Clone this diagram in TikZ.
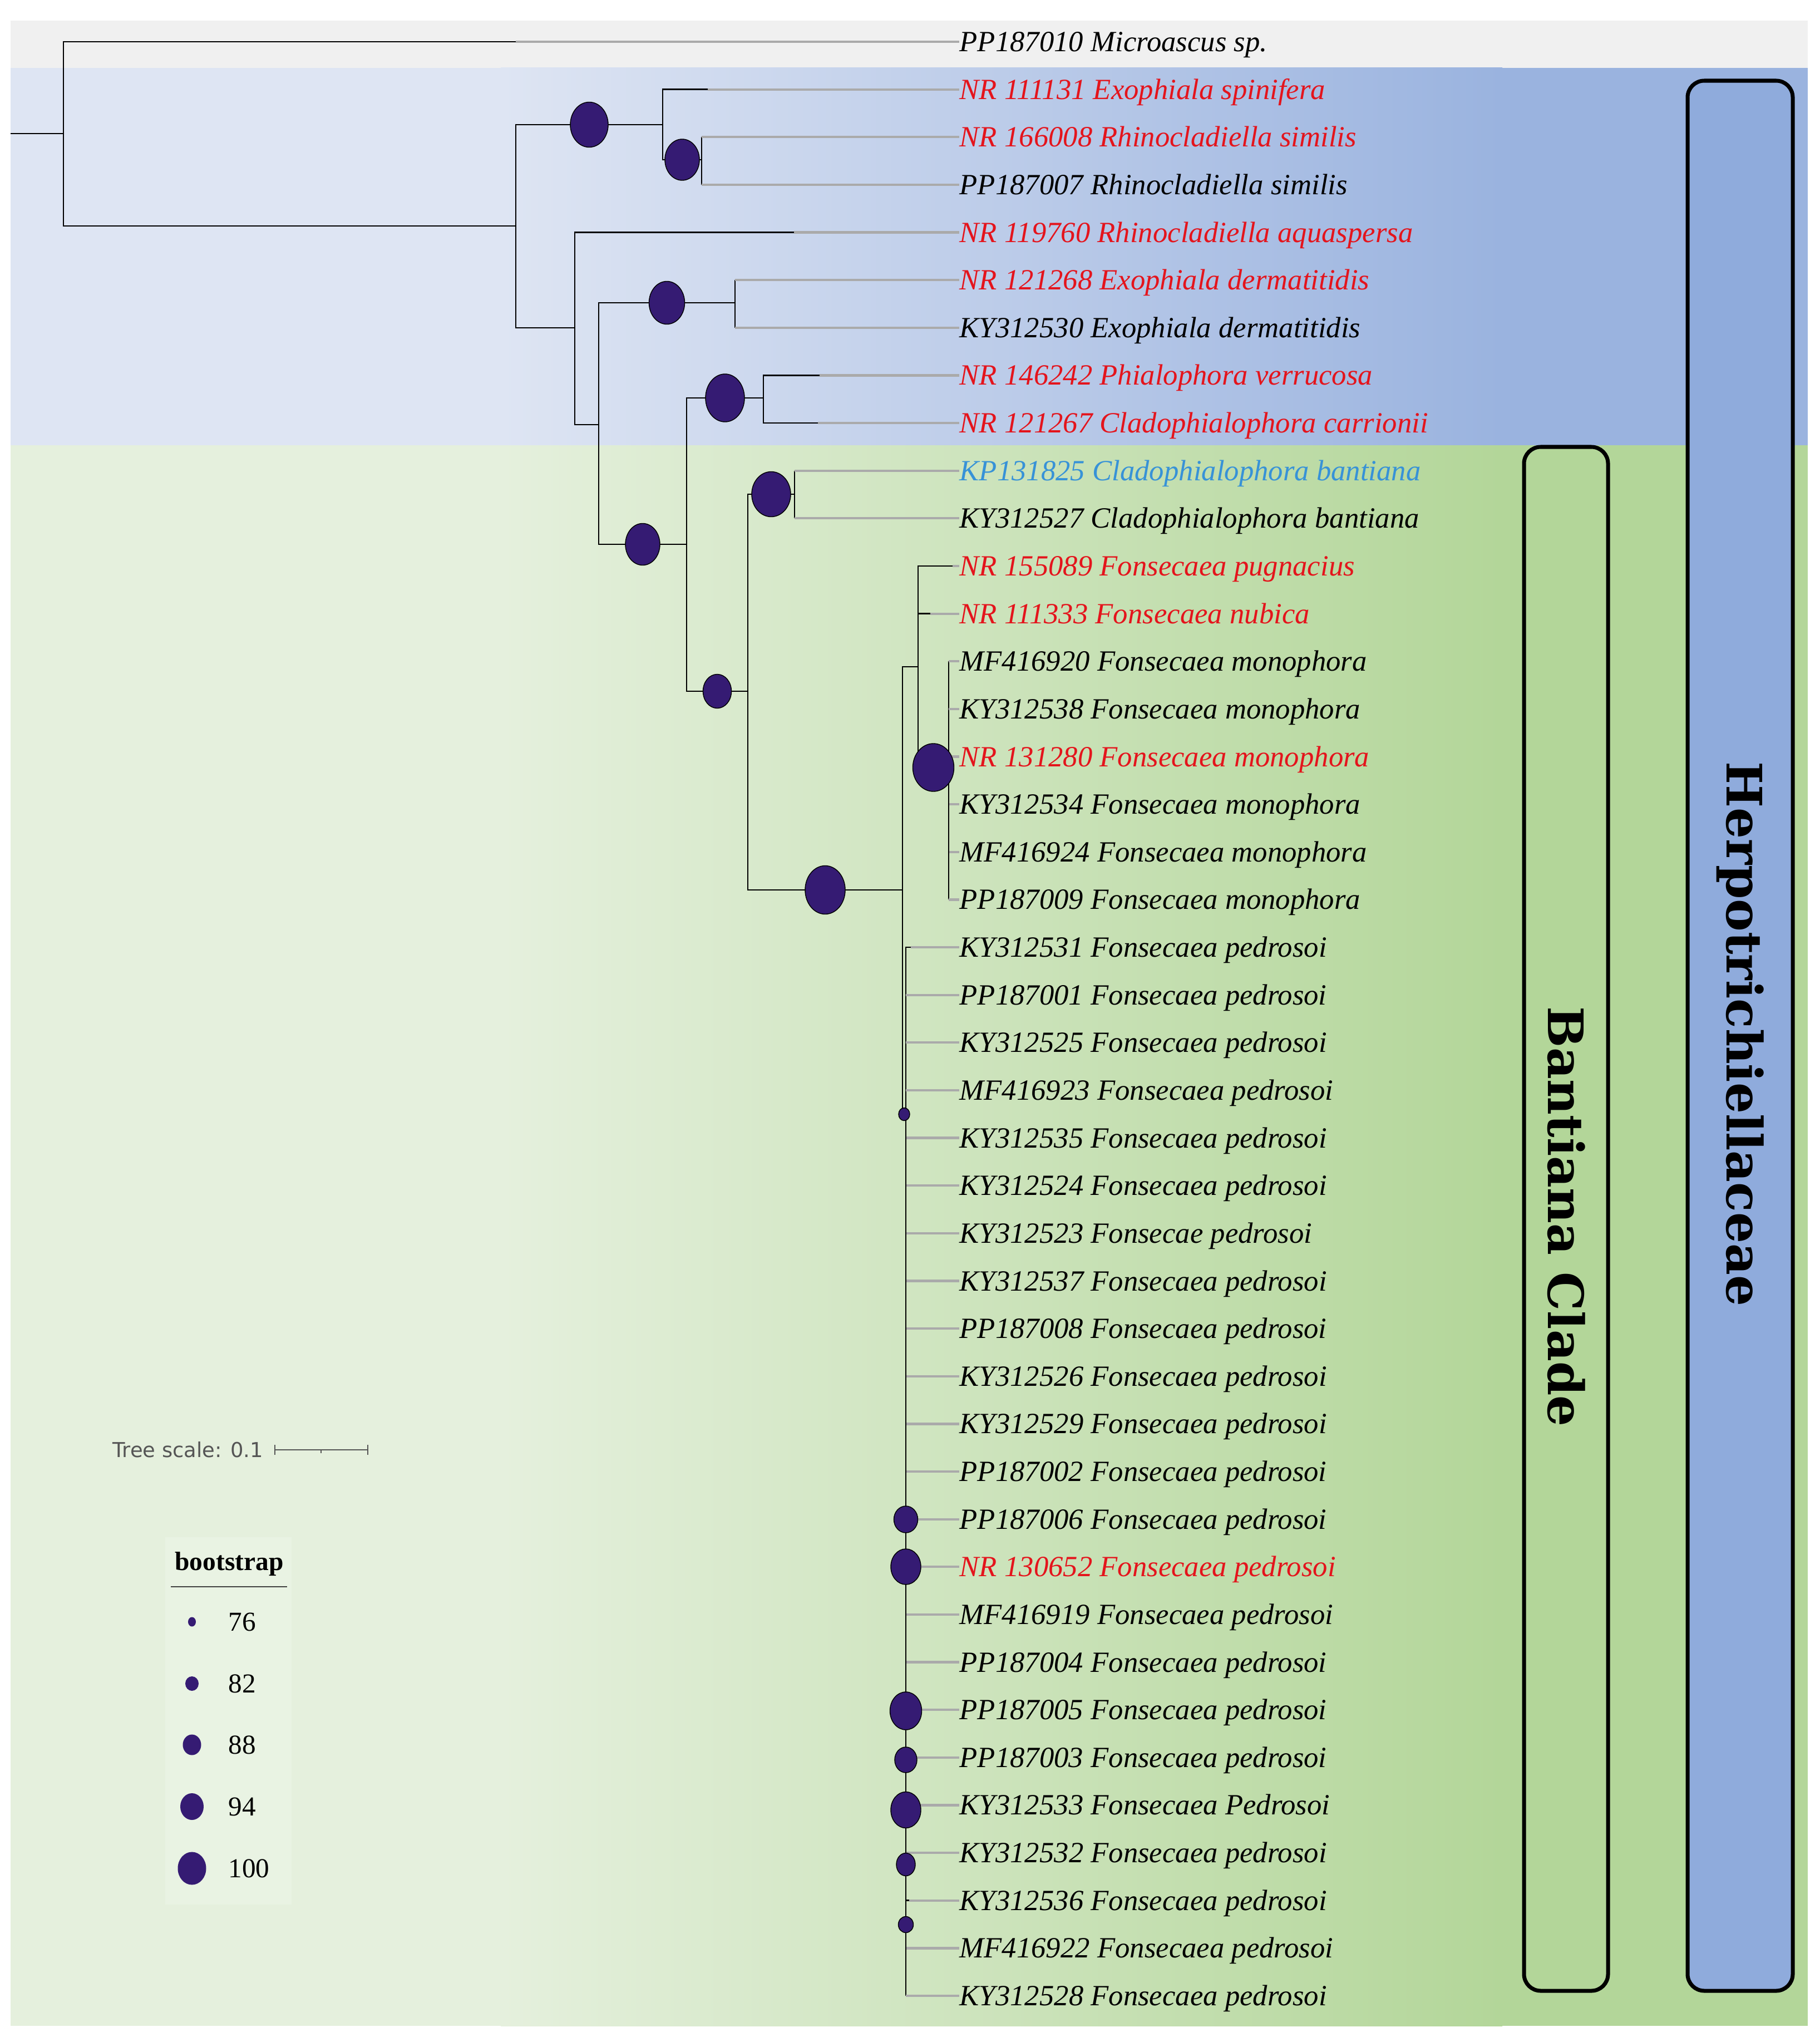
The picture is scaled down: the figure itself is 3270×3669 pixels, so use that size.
\documentclass[tikz,border=0pt]{standalone}
\usepackage{fontspec}
\setmainfont{Liberation Serif}
\newfontfamily\cladefont{DejaVu Serif}
\newfontfamily\scalebarfont{DejaVu Sans}
\usetikzlibrary{shapes.geometric,calc}
\definecolor{bsfill}{RGB}{53,27,115}
\definecolor{tipred}{RGB}{228,20,28}
\definecolor{tipblue}{RGB}{55,146,215}
\definecolor{extgray}{RGB}{170,170,170}
\definecolor{bandgray}{RGB}{240,240,240}
\definecolor{bluel}{RGB}{222,229,243}
\definecolor{bluer}{RGB}{154,179,223}
\definecolor{herpfill}{RGB}{143,171,220}
\definecolor{greenl}{RGB}{229,240,221}
\definecolor{greenr}{RGB}{179,214,153}
\definecolor{legendbg}{RGB}{233,243,227}
\definecolor{scalegray}{RGB}{85,85,85}

\begin{document}
\begin{tikzpicture}[x=0.1mm, y=-0.1mm,
  branch/.style={draw=black, line width=0.8pt},
  ext/.style={draw=extgray, line width=1.2pt},
  tip/.style={anchor=base west, inner sep=0pt, yshift=-1.75mm, font=\fontsize{15}{18}\selectfont\itshape},
  bs/.style 2 args={ellipse, draw=black, line width=0.4pt, fill=bsfill, inner sep=0pt, minimum width=#1, minimum height=#2},
  lg/.style 2 args={ellipse, fill=bsfill, inner sep=0pt, minimum width=#1, minimum height=#2},
  cladebox/.style={draw=black, line width=2pt, rounded corners=3mm},
  cladetext/.style={rotate=-90, inner sep=0pt, font=\cladefont\bfseries\fontsize{25}{28}\selectfont}]

  \useasboundingbox (0,0) rectangle (3270,3669);
  \fill[white] (0,0) rectangle (3270,3669);

  % bands
  \fill[bandgray] (19,37) rectangle (3249,122);
  \fill[bluel] (19,122) rectangle (900,800);
  \shade[left color=bluel, right color=bluer] (900,122) rectangle (2700,800);
  \fill[bluer] (2700,122) rectangle (3249,800);
  \fill[greenl] (19,800) rectangle (900,3640);
  \shade[left color=greenl, right color=greenr] (900,800) rectangle (2700,3640);
  \fill[greenr] (2700,800) rectangle (3249,3640);

  % clades
  \draw[cladebox, fill=herpfill] (3033,145) rectangle (3222,3577);
  \node[cladetext] (herp) at (3128,1858) {Herpotrichiellaceae};
  \draw[cladebox] (2739,803) rectangle (2890,3577);
  \node[cladetext] (bant) at (2815,2186) {Bantiana Clade};

  % tree nodes
  \coordinate (stub) at (19,240);
  \coordinate (root) at (114,240);
  \coordinate (A) at (927,406);
  \coordinate (B) at (1191,224);
  \coordinate (C) at (1261,287);
  \coordinate (D) at (1033,589);
  \coordinate (E) at (1076,763);
  \coordinate (F) at (1321,544);
  \coordinate (G) at (1234,978);
  \coordinate (H) at (1372,715);
  \coordinate (I) at (1344,1242);
  \coordinate (J) at (1428,888);
  \coordinate (K) at (1622,1599);
  \coordinate (L) at (1650,1198);
  \coordinate (M) at (1705,1379);
  \coordinate (P) at (1628,2002);

  \draw[branch] (stub) -- (root);
  \draw[branch] (root) |- (A);
  \draw[branch] (A) |- (B);
  \draw[branch] (B) |- (C);
  \draw[branch] (A) |- (D);
  \draw[branch] (D) |- (E);
  \draw[branch] (E) |- (F);
  \draw[branch] (E) |- (G);
  \draw[branch] (G) |- (H);
  \draw[branch] (G) |- (I);
  \draw[branch] (I) |- (J);
  \draw[branch] (I) |- (K);
  \draw[branch] (K) |- (L);
  \draw[branch] (L) |- (M);
  \draw[branch] (K) |- (P);

  % leaves
  \foreach \i/\up/\xe/\col/\lab in {
    0/root/927/black/PP187010 Microascus sp.,
    1/B/1272/tipred/NR 111131 Exophiala spinifera,
    2/C/1261/tipred/NR 166008 Rhinocladiella similis,
    3/C/1261/black/PP187007 Rhinocladiella similis,
    4/D/1427/tipred/NR 119760 Rhinocladiella aquaspersa,
    5/F/1321/tipred/NR 121268 Exophiala dermatitidis,
    6/F/1321/black/KY312530 Exophiala dermatitidis,
    7/H/1473/tipred/NR 146242 Phialophora verrucosa,
    8/H/1470/tipred/NR 121267 Cladophialophora carrionii,
    9/J/1428/tipblue/KP131825 Cladophialophora bantiana,
    10/J/1428/black/KY312527 Cladophialophora bantiana,
    11/L/1712/tipred/NR 155089 Fonsecaea pugnacius,
    12/L/1672/tipred/NR 111333 Fonsecaea nubica,
    13/M/1705/black/MF416920 Fonsecaea monophora,
    14/M/1705/black/KY312538 Fonsecaea monophora,
    15/M/1705/tipred/NR 131280 Fonsecaea monophora,
    16/M/1705/black/KY312534 Fonsecaea monophora,
    17/M/1705/black/MF416924 Fonsecaea monophora,
    18/M/1705/black/PP187009 Fonsecaea monophora,
    19/P/1637/black/KY312531 Fonsecaea pedrosoi,
    20/P/1628/black/PP187001 Fonsecaea pedrosoi,
    21/P/1628/black/KY312525 Fonsecaea pedrosoi,
    22/P/1628/black/MF416923 Fonsecaea pedrosoi,
    23/P/1628/black/KY312535 Fonsecaea pedrosoi,
    24/P/1628/black/KY312524 Fonsecaea pedrosoi,
    25/P/1628/black/KY312523 Fonsecae pedrosoi,
    26/P/1628/black/KY312537 Fonsecaea pedrosoi,
    27/P/1628/black/PP187008 Fonsecaea pedrosoi,
    28/P/1628/black/KY312526 Fonsecaea pedrosoi,
    29/P/1628/black/KY312529 Fonsecaea pedrosoi,
    30/P/1628/black/PP187002 Fonsecaea pedrosoi,
    31/P/1628/black/PP187006 Fonsecaea pedrosoi,
    32/P/1628/tipred/NR 130652 Fonsecaea pedrosoi,
    33/P/1628/black/MF416919 Fonsecaea pedrosoi,
    34/P/1628/black/PP187004 Fonsecaea pedrosoi,
    35/P/1628/black/PP187005 Fonsecaea pedrosoi,
    36/P/1628/black/PP187003 Fonsecaea pedrosoi,
    37/P/1628/black/KY312533 Fonsecaea Pedrosoi,
    38/P/1628/black/KY312532 Fonsecaea pedrosoi,
    39/P/1634/black/KY312536 Fonsecaea pedrosoi,
    40/P/1628/black/MF416922 Fonsecaea pedrosoi,
    41/P/1628/black/KY312528 Fonsecaea pedrosoi}
  {
    \coordinate (e\i) at (\xe, {75+85.634*\i});
    \coordinate (t\i) at (1724, {75+85.634*\i});
    \draw[branch] (\up) |- (e\i);
    \draw[ext] (e\i) -- (t\i);
    \node[tip, text=\col] (l\i) at (t\i) {\lab};
  }

  % bootstrap
  \node[bs={6.8mm}{8.1mm}] (bB) at ($(A|-B)!.5!(B)$) {};
  \node[bs={6.2mm}{7.4mm}] (bC) at ($(B|-C)!.5!(C)$) {};
  \node[bs={6.4mm}{7.7mm}] (bF) at ($(E|-F)!.5!(F)$) {};
  \node[bs={6.2mm}{7.5mm}] (bG) at ($(E|-G)!.5!(G)$) {};
  \node[bs={7.0mm}{8.6mm}] (bH) at ($(G|-H)!.5!(H)$) {};
  \node[bs={5.1mm}{6.1mm}] (bI) at ($(G|-I)!.5!(I)$) {};
  \node[bs={7.0mm}{8.1mm}] (bJ) at ($(I|-J)!.5!(J)$) {};
  \node[bs={7.2mm}{8.7mm}] (bK) at ($(I|-K)!.5!(K)$) {};
  \node[bs={7.4mm}{8.6mm}] (bM) at ($(L|-M)!.5!(M)$) {};
  \node[bs={2.0mm}{2.3mm}] (bP) at ($(K|-P)!.5!(P)$) {};
  \foreach \yy/\w/\h [count=\k] in {2730/4.3/4.8, 2815/5.4/6.4, 3074/5.7/6.8, 3162/4.0/4.6, 3252/5.4/6.5, 3350/3.4/4.1, 3458/2.7/2.9}
    \node[bs={\w mm}{\h mm}] (bq\k) at (1628,\yy) {};

  % scale
  \node[anchor=west, inner sep=0pt, text=scalegray, font=\scalebarfont\fontsize{10.5}{12}\selectfont] (tsc) at (202,2605) {Tree scale: 0.1};
  \draw[scalegray, line width=0.7pt] (494,2596) -- (494,2614) (494,2605) -- (661,2605) (661,2596) -- (661,2614) (577,2605) -- (577,2611);

  % legend
  \fill[legendbg] (297,2762) rectangle (524,3422);
  \node[anchor=base, inner sep=0pt, font=\bfseries\fontsize{13.5}{16}\selectfont] (lgtitle) at (412,2821) {bootstrap};
  \draw[black!75, line width=0.8pt] (307,2851) -- (516,2851);
  \foreach \yy/\w/\h/\v in {2914/1.4/1.7/76, 3025/2.4/2.6/82, 3135/3.3/3.7/88, 3246/4.2/4.8/94, 3357/5.1/5.9/100}
  {
    \node[lg={\w mm}{\h mm}] (lg\v) at (345,\yy) {};
    \node[anchor=base west, inner sep=0pt, yshift=-1.65mm, font=\fontsize{14}{16}\selectfont] (lv\v) at (410,\yy) {\v};
  }
\end{tikzpicture}
\end{document}
